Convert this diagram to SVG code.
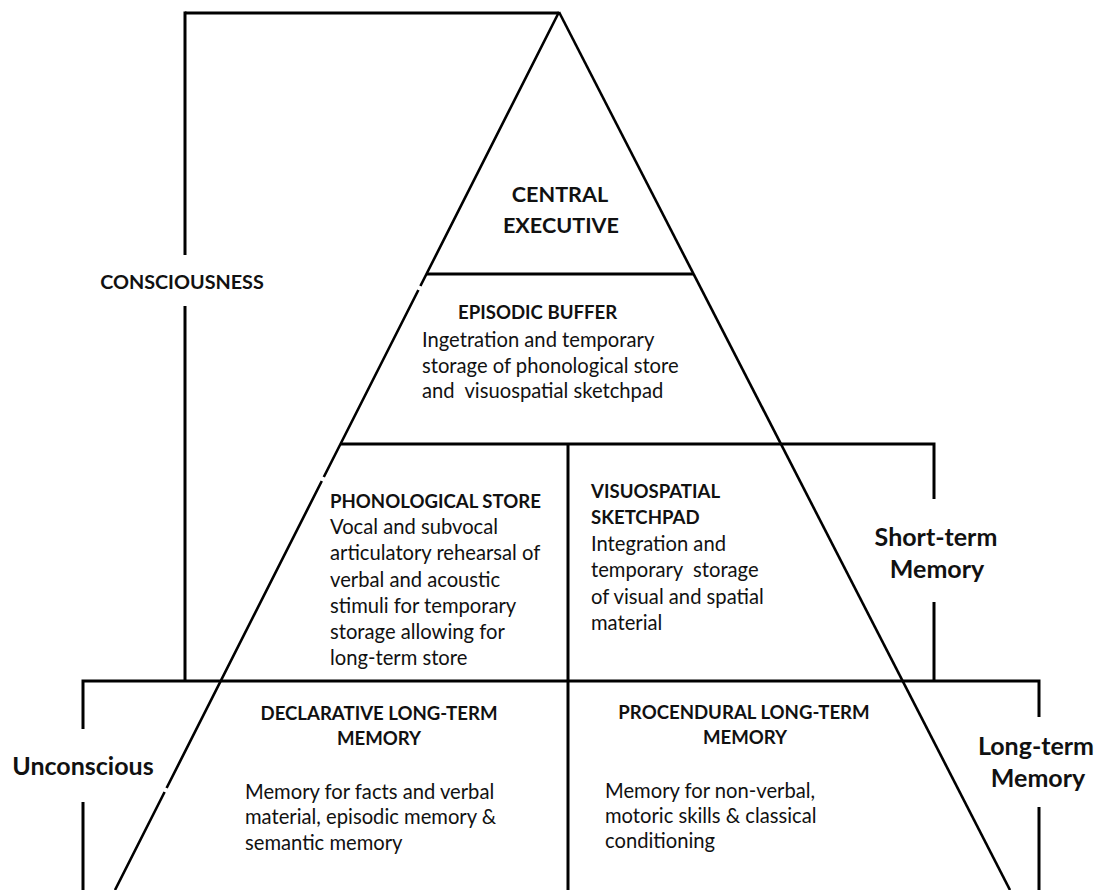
<svg xmlns="http://www.w3.org/2000/svg" width="1095" height="890" viewBox="0 0 1095 890">
<style>
.ln{stroke:#000;stroke-width:3;fill:none;stroke-linecap:butt}
.dg{stroke:#000;stroke-width:2.6;fill:none}
.t{font-family:Lato,"Open Sans","Liberation Sans",sans-serif;fill:#111}
.h{font-weight:bold;font-size:18.6px}
.b{font-size:20.2px}
.big{font-weight:bold;font-size:25px}
.ce{font-weight:bold;font-size:21.6px}
.c{text-anchor:middle}
</style>
<rect width="1095" height="890" fill="#fff"/>
<g id="connectors">
  <path class="dg" d="M559,12 L420.4,286 M418.4,290 L323.8,477 M321.8,481 L166.6,788 M164.6,792 L115,890"/>
  <path class="dg" d="M559,12 L1010,890"/>
  <path class="ln" d="M185,13 L559,13"/>
  <path class="ln" d="M185,11.5 L185,255 M185,306 L185,681"/>
  <path class="ln" d="M427,274 L693,274"/>
  <path class="ln" d="M340,444 L935.5,444 M934,444 L934,499 M934,602 L934,681"/>
  <path class="ln" d="M568,444 L568,890"/>
  <path class="ln" d="M81.5,681 L1040.5,681 M83,681 L83,729 M83,802 L83,890 M1039,681 L1039,717 M1039,807 L1039,890"/>
</g>
<g id="central-executive">
  <text class="t ce c" x="560" y="202">CENTRAL</text>
  <text class="t ce c" x="561" y="233">EXECUTIVE</text>
</g>
<g id="episodic-buffer">
  <text class="t h" x="458" y="319">EPISODIC BUFFER</text>
  <text class="t b" x="422" y="347">Ingetration and temporary</text>
  <text class="t b" x="422" y="373">storage of phonological store</text>
  <text class="t b" x="422" y="398" xml:space="preserve">and  visuospatial sketchpad</text>
</g>
<g id="phonological-store">
  <text class="t h" x="330" y="508">PHONOLOGICAL STORE</text>
  <text class="t b" x="330" y="534">Vocal and subvocal</text>
  <text class="t b" x="330" y="560">articulatory rehearsal of</text>
  <text class="t b" x="330" y="587">verbal and acoustic</text>
  <text class="t b" x="330" y="613">stimuli for temporary</text>
  <text class="t b" x="330" y="639">storage allowing for</text>
  <text class="t b" x="330" y="665">long-term store</text>
</g>
<g id="visuospatial-sketchpad">
  <text class="t h" x="591" y="498">VISUOSPATIAL</text>
  <text class="t h" x="591" y="524">SKETCHPAD</text>
  <text class="t b" x="591" y="551">Integration and</text>
  <text class="t b" x="591" y="577" xml:space="preserve">temporary  storage</text>
  <text class="t b" x="591" y="604">of visual and spatial</text>
  <text class="t b" x="591" y="630">material</text>
</g>
<g id="declarative-ltm">
  <text class="t h c" x="379" y="720">DECLARATIVE LONG-TERM</text>
  <text class="t h c" x="379" y="745">MEMORY</text>
  <text class="t b" x="245" y="799">Memory for facts and verbal</text>
  <text class="t b" x="245" y="824">material, episodic memory &amp;</text>
  <text class="t b" x="245" y="850">semantic memory</text>
</g>
<g id="procedural-ltm">
  <text class="t h c" x="744" y="719">PROCENDURAL LONG-TERM</text>
  <text class="t h c" x="745" y="744">MEMORY</text>
  <text class="t b" x="605" y="798">Memory for non-verbal,</text>
  <text class="t b" x="605" y="823">motoric skills &amp; classical</text>
  <text class="t b" x="605" y="848">conditioning</text>
</g>
<g id="consciousness">
  <text class="t c" x="182" y="289" font-weight="bold" font-size="19.8px">CONSCIOUSNESS</text>
</g>
<g id="short-term-memory">
  <text class="t big c" x="936" y="546">Short-term</text>
  <text class="t big c" x="937" y="578">Memory</text>
</g>
<g id="long-term-memory">
  <text class="t big c" x="1036" y="755">Long-term</text>
  <text class="t big c" x="1038" y="787">Memory</text>
</g>
<g id="unconscious">
  <text class="t big c" x="83" y="775">Unconscious</text>
</g>
</svg>
